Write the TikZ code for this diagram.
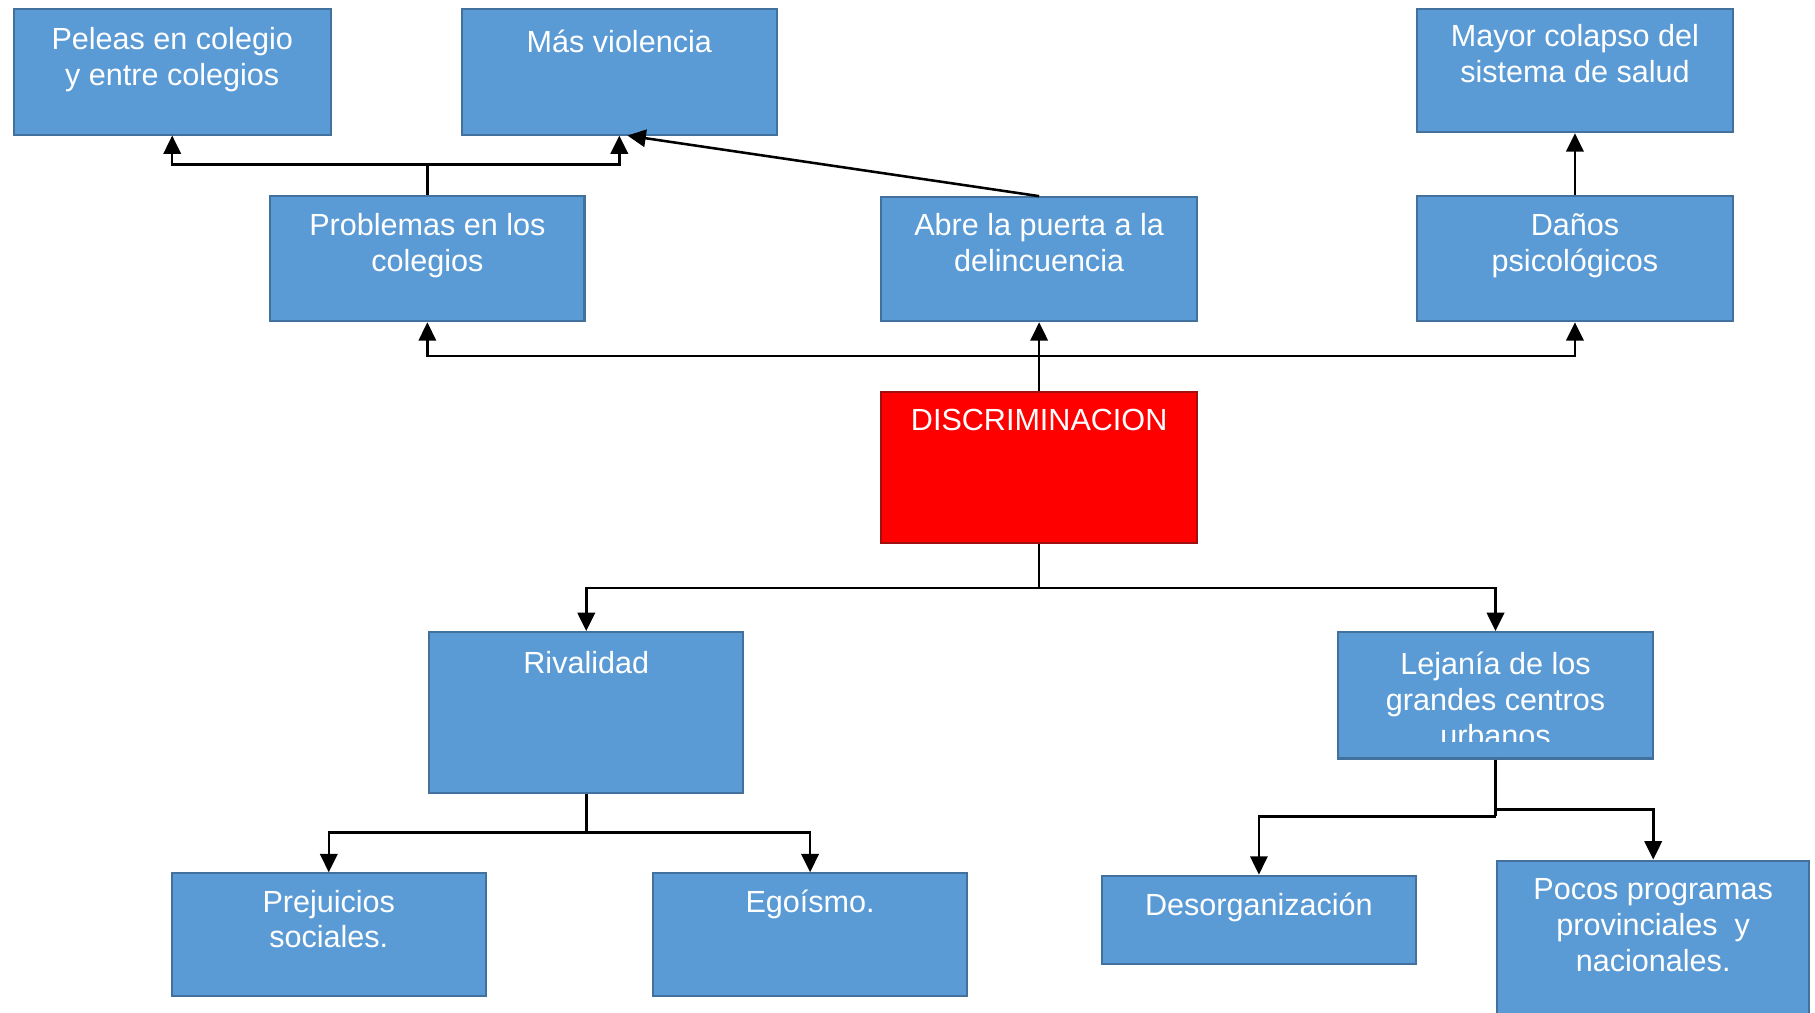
\documentclass[tikz,border=0pt]{standalone}
\usepackage{fontspec}
\setmainfont{Liberation Sans}
\usetikzlibrary{arrows.meta,fit}
\definecolor{boxblue}{HTML}{5B9BD5}
\definecolor{boxedge}{HTML}{41719C}
\definecolor{redfill}{HTML}{FF0000}
\definecolor{rededge}{HTML}{A01010}
\tikzset{
  box/.style={draw=boxedge, fill=boxblue, line width=1pt, inner sep=0pt},
  redbox/.style={draw=rededge, fill=redfill, line width=1pt, inner sep=0pt},
  txt/.style={anchor=north, inner sep=0pt, align=center, text=white,
    font=\fontsize{15}{17.6}\selectfont, execute at begin node=\strut},
  conn/.style={draw=black, line width=1.25pt},
  arr/.style={conn, -{Triangle[width=8.5pt,length=9pt]}}
}
\begin{document}
\begin{tikzpicture}[x=0.02cm, y=-0.02cm]
\useasboundingbox (0,0) rectangle (1565,873);
\clip (0,0) rectangle (1565,873);
\fill[white] (0,0) rectangle (1565,873);

% boxes
\node[box, fit={(12,8) (285,116)}] (pel) {};
\node[box, fit={(398,8) (670,116)}] (mas) {};
\node[box, fit={(1222,8) (1494,114)}] (may) {};
\node[box, fit={(233,169) (504,277)}] (prob) {};
\node[box, fit={(760,170) (1032,277)}] (abre) {};
\node[box, fit={(1222,169) (1494,277)}] (danos) {};
\node[redbox, fit={(760,338) (1032,468)}] (disc) {};
\node[box, fit={(370,545) (641,684)}] (riv) {};
\node[box, fit={(1154,545) (1425,654)}] (lej) {};
\node[box, fit={(148,753) (419,859)}] (pre) {};
\node[box, fit={(563,753) (834,859)}] (ego) {};
\node[box, fit={(950,755) (1221,831)}] (des) {};
\node[box, fit={(1291,742) (1560,900)}] (poc) {};

% texts
\node[txt] (pel-t) at (148.5,23) {Peleas en colegio\\y entre colegios};
\node[txt] (mas-t) at (534,23) {Más violencia};
\node[txt] (may-t) at (1358,21) {Mayor colapso del\\sistema de salud};
\node[txt] (prob-t) at (368.5,184) {Problemas en los\\colegios};
\node[txt] (abre-t) at (896,184) {Abre la puerta a la\\delincuencia};
\node[txt] (danos-t) at (1358,184) {Daños\\psicológicos};
\node[txt] (disc-t) at (896,349) {DISCRIMINACION};
\node[txt] (riv-t) at (505.5,559) {Rivalidad};
\begin{scope}
\clip (1154,545) rectangle (1425,639);
\node[txt] (lej-t) at (1289.5,562) {Lejanía de los\\grandes centros\\urbanos};
\end{scope}
\node[txt] (pre-t) at (283.5,767) {Prejuicios\\sociales.};
\node[txt] (ego-t) at (698.5,765) {Egoísmo.};
\node[txt] (des-t) at (1085.5,767) {Desorganización};
\node[txt] (poc-t) at (1425.5,757) {Pocos programas\\provinciales\ \ y\\nacionales.};

% connectors
\coordinate (j1) at (368.5,142);
\draw[conn] (prob.north) -- (j1);
\draw[arr] (j1) -| (pel.south);
\draw[arr] (j1) -| (mas.south);
\draw[arr] (abre.north) -- ([xshift=4]mas.south);
\draw[arr] (danos.north) -- (may.south);

\coordinate (j2) at (896,307);
\draw[conn] (disc.north) -- (j2);
\draw[arr] (j2) -| (prob.south);
\draw[arr] (j2) -- (abre.south);
\draw[arr] (j2) -| (danos.south);

\coordinate (j3) at (896,507);
\draw[conn] (disc.south) -- (j3);
\draw[arr] (j3) -| (riv.north);
\draw[arr] (j3) -| (lej.north);

\coordinate (j4) at (505.5,718);
\draw[conn] (riv.south) -- (j4);
\draw[arr] (j4) -| (pre.north);
\draw[arr] (j4) -| (ego.north);

\coordinate (j5) at (1289.5,704);
\coordinate (j6) at (1289.5,698);
\draw[conn] (lej.south) -- (j5);
\draw[arr] (j5) -| (des.north);
\draw[arr] (j6) -| (poc.north);
\end{tikzpicture}
\end{document}
